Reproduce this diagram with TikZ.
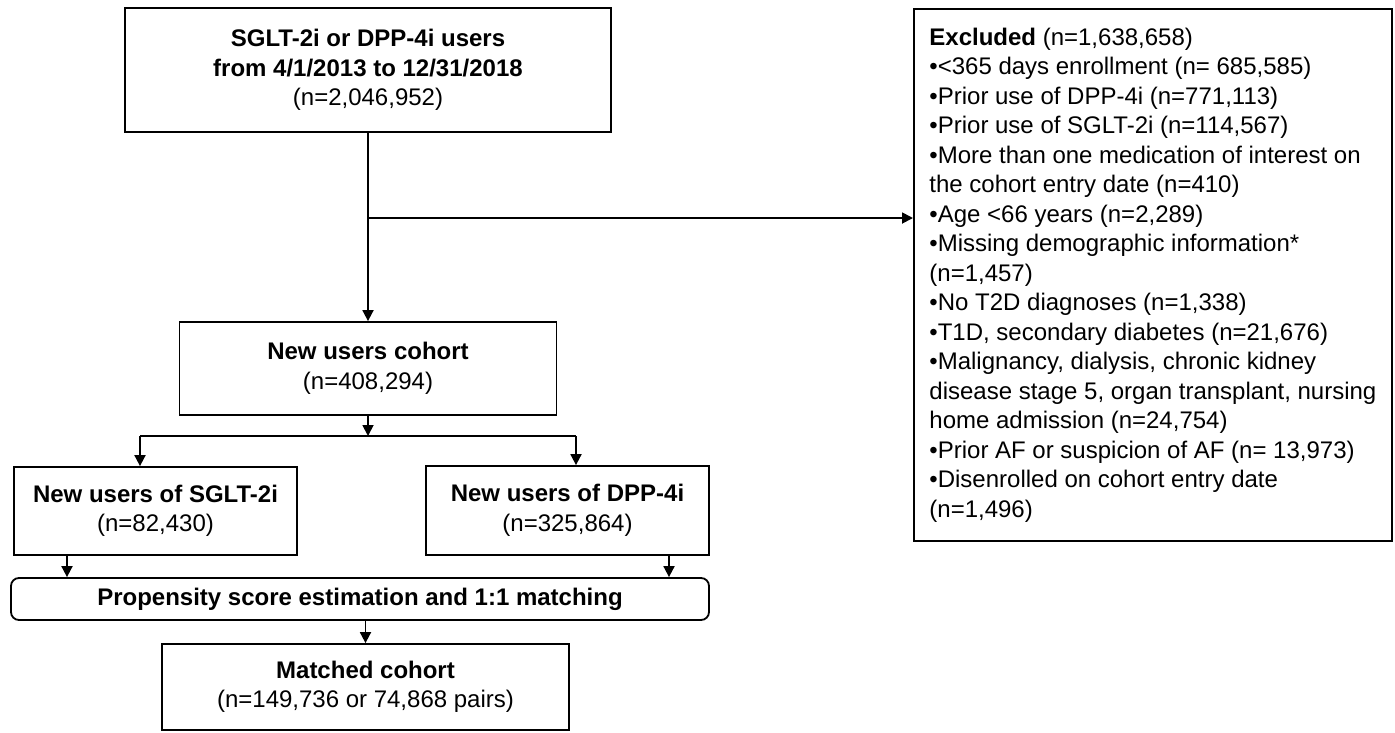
\documentclass[tikz,border=0pt]{standalone}
\usepackage{fontspec}
\setmainfont{Liberation Sans}
\usetikzlibrary{positioning, arrows.meta, calc}
\tikzset{
	>={Triangle[length=11pt,width=11pt]},
	every node/.style={font=\fontsize{24}{29.5}\selectfont},
	block/.style={draw, line width=1.8pt, align=center, inner sep=0pt},
	link/.style={line width=1.8pt},
}

\begin{document}
\begin{tikzpicture}[x=1pt, y=-1pt]
			\useasboundingbox (0,0) rectangle (1395,732);
			\node[block, minimum width=486pt, minimum height=124pt] (SOURCE) at (368,70) {\textbf{SGLT-2i or DPP-4i users}\\\textbf{from 4/1/2013 to 12/31/2018}\\(n=2,046,952)};
			\node[block, minimum width=377pt, minimum height=93pt] (COHORT) at (368,368.5) {\textbf{New users cohort}\\(n=408,294)};
			\node[block, minimum width=283pt, minimum height=88pt] (SGLT) at (155.5,511) {\textbf{New users of SGLT-2i}\\(n=82,430)};
			\node[block, minimum width=283pt, minimum height=89pt] (DPP) at (567.5,510.5) {\textbf{New users of DPP-4i}\\(n=325,864)};
			\node[block, rounded corners=8pt, minimum width=698pt, minimum height=42pt] (PSM) at (360,599) {\textbf{Propensity score estimation and 1:1 matching}};
			\node[block, minimum width=407pt, minimum height=86pt] (MATCHED) at (365.5,687) {\textbf{Matched cohort}\\(n=149,736 or 74,868 pairs)};
			\node[block, anchor=north west, align=left, minimum width=478pt, minimum height=532pt] (EXCLUDED) at (913,8) {\textbf{Excluded} (n=1,638,658)\\
				•<365 days enrollment (n= 685,585)\\
				•Prior use of DPP-4i (n=771,113)\\
				•Prior use of SGLT-2i (n=114,567)\\
				•More than one medication of interest on\\
				the cohort entry date (n=410)\\
				•Age <66 years (n=2,289)\\
				•Missing demographic information*\\
				(n=1,457)\\
				•No T2D diagnoses (n=1,338)\\
				•T1D, secondary diabetes (n=21,676)\\
				•Malignancy, dialysis, chronic kidney\\
				disease stage 5, organ transplant, nursing\\
				home admission (n=24,754)\\
				•Prior AF or suspicion of AF (n= 13,973)\\
				•Disenrolled on cohort entry date\\
				(n=1,496)};
			
			\coordinate (split) at (SOURCE.south |- 0,218);
			\coordinate (fork) at (COHORT.south |- 0,436);
			\coordinate (forkL) at (140,436);
			\coordinate (forkR) at (576,436);
			
			\draw[link, ->] (SOURCE.south) -- (COHORT.north);
			\draw[link, ->] (split) -- (split -| EXCLUDED.west);
			\draw[link, ->] (COHORT.south) -- (fork);
			\draw[link] (forkL) -- (forkR);
			\draw[link, ->] (forkL) -- (forkL |- SGLT.north);
			\draw[link, ->] (forkR) -- (forkR |- DPP.north);
			\draw[link, ->] (SGLT.south -| 67,0) -- (PSM.north -| 67,0);
			\draw[link, ->] (DPP.south -| 669,0) -- (PSM.north -| 669,0);
			\draw[link, ->] (PSM.south -| MATCHED.north) -- (MATCHED.north);
		\end{tikzpicture}
\end{document}
